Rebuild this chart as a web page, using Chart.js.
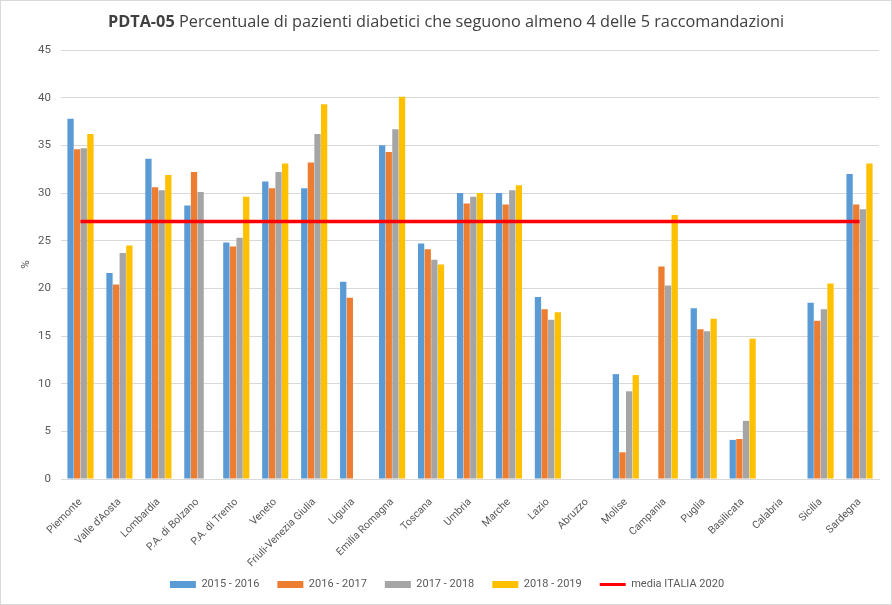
<!DOCTYPE html>
<html>
<head>
<meta charset="utf-8">
<script src="https://cdn.jsdelivr.net/npm/chart.js@4/dist/chart.umd.min.js"></script>
<style>
	body { margin: 0; background: #fff; }
	#box { position: relative; width: 892px; height: 605px; border: 1px solid #d9d9d9; box-sizing: border-box; }
	#title { position: absolute; top: 9px; left: 0; width: 100%; text-align: center; font: 16.3px "Open Sans", sans-serif; color: #404040; }
	#wrap { position: absolute; left: 0; top: 0; width: 890px; height: 603px; }
</style>
</head>
<body>
<div id="box">
	<div id="wrap"><canvas id="chart"></canvas></div>
	<div id="title"><b>PDTA-05</b> Percentuale di pazienti diabetici che seguono almeno 4 delle 5 raccomandazioni</div>
</div>
<script>
const regioni = ["Piemonte", "Valle d'Aosta", "Lombardia", "P.A. di Bolzano", "P.A. di Trento", "Veneto",
	"Friuli-Venezia Giulia", "Liguria", "Emilia Romagna", "Toscana", "Umbria", "Marche", "Lazio", "Abruzzo",
	"Molise", "Campania", "Puglia", "Basilicata", "Calabria", "Sicilia", "Sardegna"];
const anni2015 = [37.8, 21.6, 33.6, 28.7, 24.8, 31.2, 30.5, 20.7, 35.0, 24.7, 30.0, 30.0, 19.1, null, 11.0, null, 17.9, 4.1, null, 18.5, 32.0];
const anni2016 = [34.6, 20.4, 30.6, 32.2, 24.4, 30.5, 33.2, 19.0, 34.3, 24.1, 28.9, 28.8, 17.8, null, 2.8, 22.3, 15.7, 4.2, null, 16.6, 28.8];
const anni2017 = [34.7, 23.7, 30.3, 30.1, 25.3, 32.2, 36.2, null, 36.7, 23.0, 29.6, 30.3, 16.7, null, 9.2, 20.3, 15.5, 6.1, null, 17.8, 28.3];
const anni2018 = [36.2, 24.5, 31.9, null, 29.6, 33.1, 39.3, null, 40.1, 22.5, 30.0, 30.8, 17.5, null, 10.9, 27.7, 16.8, 14.7, null, 20.5, 33.1];
const mediaItalia = [27, 27, 27, 27, 27, 27, 27, 27, 27, 27, 27, 27, 27, 27, 27, 27, 27, 27, 27, 27, 27];
const yTicks = [0, 5, 10, 15, 20, 25, 30, 35, 40, 45];

Chart.defaults.font.family = 'Roboto, sans-serif';
Chart.defaults.color = '#595959';

// let the rotated region names run below the axis box (they overlap the legend gap)
Chart.registry.getScale('category').prototype._computeLabelArea = function () { return undefined; };

function barSet(label, data, color) {
	return { type: 'bar', label: label, data: data, backgroundColor: color, borderWidth: 0,
		barPercentage: 0.95, categoryPercentage: 0.68, order: 2 };
}

new Chart(document.getElementById('chart'), {
	data: {
		labels: regioni,
		datasets: [
			barSet('2015 - 2016', anni2015, '#5B9BD5'),
			barSet('2016 - 2017', anni2016, '#ED7D31'),
			barSet('2017 - 2018', anni2017, '#A5A5A5'),
			barSet('2018 - 2019', anni2018, '#FFC000'),
			{ type: 'line', label: 'media ITALIA 2020', data: mediaItalia, borderColor: '#FF0000',
				backgroundColor: '#FF0000', borderWidth: 3.5, pointRadius: 0, order: 1 }
		]
	},
	options: {
		responsive: true,
		maintainAspectRatio: false,
		animation: false,
		layout: { padding: { top: 49, right: 12, left: 14, bottom: 4 } },
		plugins: {
			title: { display: false },
			tooltip: { enabled: false },
			legend: {
				position: 'bottom',
				labels: {
					usePointStyle: true, pointStyleWidth: 26, boxHeight: 7, padding: 18,
					font: { size: 11 }, color: '#595959',
					sort: (a, b) => a.datasetIndex - b.datasetIndex,
					generateLabels: function (chart) {
						const items = Chart.defaults.plugins.legend.labels.generateLabels(chart);
						items.forEach(function (it) {
							it.pointStyle = it.datasetIndex === 4 ? 'line' : 'rect';
							if (it.datasetIndex === 4) it.lineWidth = 3;
						});
						return items;
					}
				}
			}
		},
		scales: {
			x: {
				grid: { display: false },
				border: { color: '#d9d9d9' },
				ticks: { minRotation: 45, maxRotation: 45, autoSkip: false, padding: 9, font: { size: 10.5 } },
				afterFit: function (axis) { axis.height = 82; }
			},
			y: {
				min: 0, max: 45,
				afterBuildTicks: function (axis) { axis.ticks = yTicks.map(v => ({ value: v })); },
				afterFit: function (axis) { axis.width = 46; },
				grid: { color: '#d9d9d9', drawTicks: false },
				border: { display: false },
				ticks: { padding: 10, font: { size: 11.5 } },
				title: { display: true, text: '%', font: { size: 11.5 }, color: '#595959' }
			}
		}
	}
});
</script>
</body>
</html>
